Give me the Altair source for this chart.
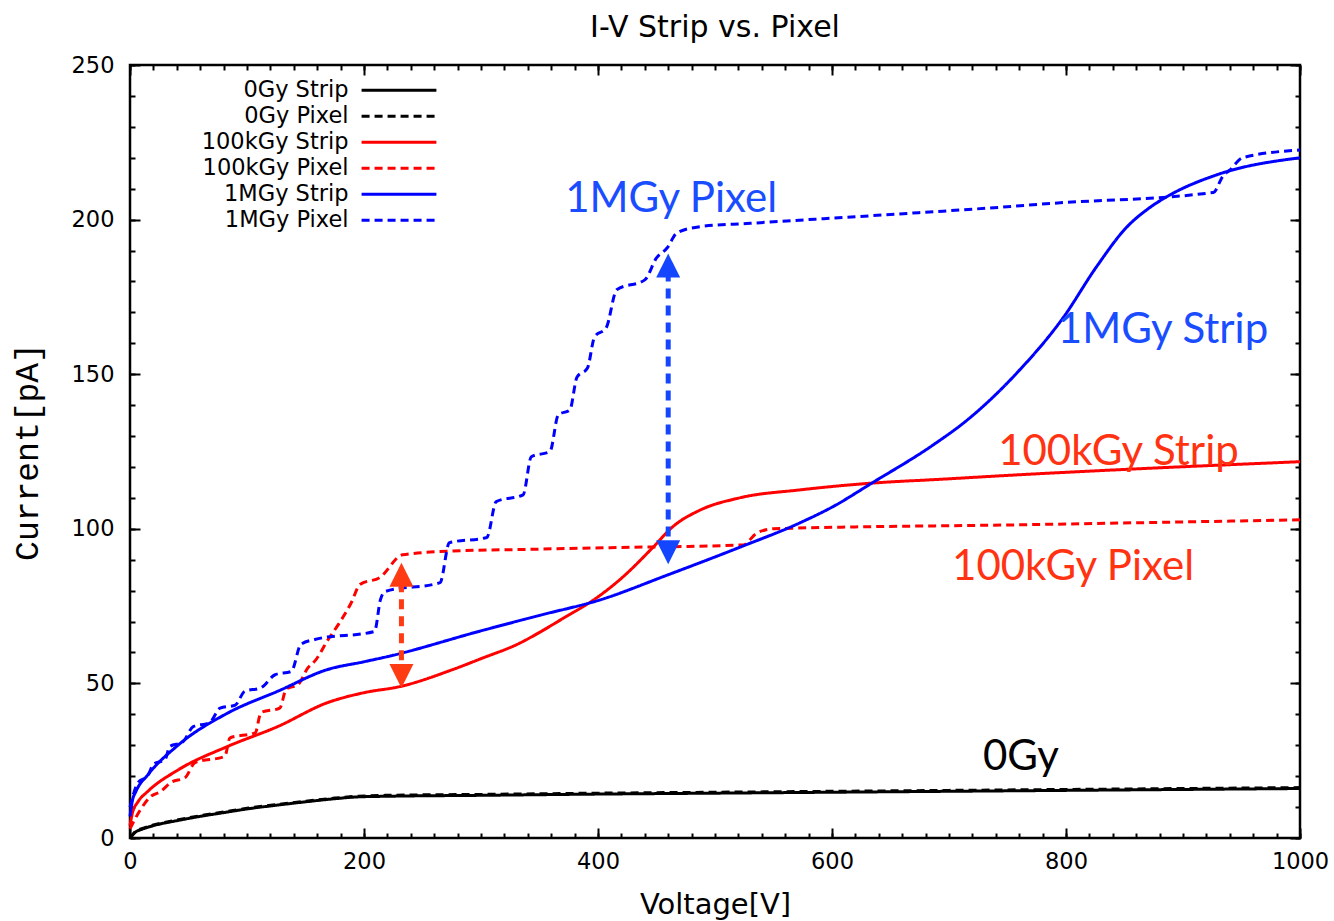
import altair as alt
import pandas as pd

# ---------------- data ----------------
SERIES = ["0Gy Strip", "0Gy Pixel", "100kGy Strip", "100kGy Pixel", "1MGy Strip", "1MGy Pixel"]
COLORS = ["#000000", "#000000", "#ff0000", "#ff0000", "#0000ff", "#0000ff"]
DASHES = [[1, 0], [8, 5], [1, 0], [8, 5], [1, 0], [8, 5]]

v_0gy = [0, 5, 10, 20, 40, 60, 80, 100, 125, 150, 175, 195, 220, 300, 400, 500, 600, 700, 800, 900, 1000]
i_0gy_strip = [0, 2.0, 2.8, 4.0, 5.6, 7.0, 8.2, 9.4, 10.6, 11.7, 12.7, 13.3, 13.5, 13.8, 14.2, 14.5, 14.8, 15.1, 15.4, 15.7, 16.0]
i_0gy_pixel = [0, 2.2, 3.0, 4.2, 5.8, 7.2, 8.4, 9.6, 10.8, 11.9, 12.9, 13.5, 13.8, 14.1, 14.5, 14.8, 15.1, 15.4, 15.7, 16.0, 16.3]

v_100k_strip = [0, 2, 7, 15, 41, 84, 126, 169, 200, 231, 276, 300, 333, 350, 370, 400, 420, 447, 464, 487, 521, 573, 635, 692, 761, 850, 1000]
i_100k_strip = [4, 8, 11.8, 15, 22, 29.7, 36, 43.8, 47, 49, 54.5, 58, 63, 66.5, 71, 78, 84, 94, 100.7, 106, 110, 112.6, 114.8, 116, 117.5, 119.2, 121.7]

v_100k_pixel = [0, 9, 18, 26, 35, 47, 55.6, 81, 85.5, 107, 112, 128, 133.6, 143.6, 152, 159, 169, 178, 189, 196.6,
                213.7, 233, 282, 333, 410, 524, 536, 550, 761, 1000]
i_100k_pixel = [3, 9.2, 13.5, 15, 18, 19.5, 24.4, 26.4, 32.4, 34, 40.6, 42, 48.2, 49.6, 55, 57.7, 64, 69, 76, 82,
                84.3, 91.6, 92.9, 93.3, 93.9, 94.8, 98.7, 100, 101.3, 102.9]

v_1m_strip = [0, 2, 5, 15.4, 41, 84, 126.5, 169, 200, 220.5, 300, 350, 401.7, 459, 521, 573, 600, 635, 686, 715,
              758, 798, 826, 852, 872, 889, 929, 1000]
i_1m_strip = [7, 12, 15, 20.5, 30, 40.5, 47.5, 54.5, 57, 58.7, 67, 72, 77, 85, 94, 102, 107, 115, 127, 135,
              150.4, 168.5, 184.7, 197.6, 204, 208, 214.5, 220]

v_1m_pixel = [0, 7, 15, 20, 30, 34, 45, 54, 68, 77, 90, 98, 112, 124, 138, 146, 158, 209, 214, 218,
              265, 273, 305, 313, 336, 343, 359, 366, 376, 382, 391, 397, 407, 416, 440, 450, 459, 467.5, 487, 530,
              644, 744, 786, 926, 934, 940, 951, 1000]
i_1m_pixel = [10, 18, 20, 23.8, 25.4, 29.6, 31, 36, 37.3, 42, 43, 47.4, 48.6, 52.8, 53.9, 62.6, 64.2, 66.8, 77, 79.7,
              82.6, 95.5, 97.2, 108.8, 111, 123.3, 125, 136.8, 138.5, 149, 152, 162, 165, 177.3, 180.5, 187.6, 190.8, 195.7, 197.7, 198.8,
              201.5, 204, 205.2, 208.8, 214, 216, 220, 222.5]

ann_text = ["1MGy Pixel", "1MGy Strip", "100kGy Strip", "100kGy Pixel", "0Gy"]
ann_v = [372, 793, 742, 702.6, 729]
ann_i = [202.5, 160, 120.7, 83.5, 22]
ann_color = ["#1a4dff", "#1a4dff", "#ff3311", "#ff3311", "#000000"]

arrow_v = [232, 460]
arrow_lo = [48.5, 88.5]
arrow_hi = [89, 189]
arrow_line_lo = [52, 92]
arrow_line_hi = [85, 184]
arrow_color = ["#ff3b14", "#1446ff"]

x_major = [0, 200, 400, 600, 800, 1000]
x_minor = list(range(0, 1001, 20))
y_major = [0, 50, 100, 150, 200, 250]
y_minor = list(range(0, 251, 10))

# ---------------- tables ----------------
rows = []
for name, vs, cs in [
    ("0Gy Strip", v_0gy, i_0gy_strip),
    ("0Gy Pixel", v_0gy, i_0gy_pixel),
    ("100kGy Strip", v_100k_strip, i_100k_strip),
    ("100kGy Pixel", v_100k_pixel, i_100k_pixel),
    ("1MGy Strip", v_1m_strip, i_1m_strip),
    ("1MGy Pixel", v_1m_pixel, i_1m_pixel),
]:
    for v, c in zip(vs, cs):
        rows.append({"series": name, "V": v, "I": c, "order": SERIES.index(name)})
df = pd.DataFrame(rows)

ann = pd.DataFrame({"text": ann_text, "V": ann_v, "I": ann_i, "color": ann_color})
arr = pd.DataFrame({"V": arrow_v, "lo": arrow_lo, "hi": arrow_hi,
                    "llo": arrow_line_lo, "lhi": arrow_line_hi, "color": arrow_color})

XS = alt.Scale(domain=[0, 1000], nice=False, zero=False)
YS = alt.Scale(domain=[0, 250], nice=False, zero=False)
FONT = "DejaVu Sans"

# legend: label on the left (right-aligned), line sample drawn to its right
legend = alt.Legend(
    title=None, orient="none", legendX=196, legendY=14,
    symbolType="M2.6,0H10.6", symbolSize=350, symbolStrokeWidth=3,
    labelAlign="right", labelOffset=0, labelFont=FONT, labelFontSize=22.5,
    labelColor="#000000", rowPadding=3, padding=0, symbolOpacity=1,
)

lines = alt.Chart(df).mark_line(strokeWidth=3, interpolate="monotone").encode(
    x=alt.X("V:Q", scale=XS, axis=alt.Axis(
        values=x_major, format="d", ticks=False, domain=False, grid=False, labelFont=FONT, labelFontSize=22.5,
        labelPadding=12, labelColor="#000", title="Voltage[V]", titleFont=FONT, titleFontSize=29,
        titleFontWeight="normal", titlePadding=18, titleColor="#000", orient="bottom", labelFlush=False)),
    y=alt.Y("I:Q", scale=YS, axis=alt.Axis(
        values=y_major, ticks=False, domain=False, grid=False, labelFont=FONT, labelFontSize=22.5,
        labelPadding=16, labelColor="#000", title="Current[pA]", titleFont="Liberation Mono",
        titleFontSize=33, titleFontWeight="normal", titlePadding=27, titleColor="#000", orient="left")),
    color=alt.Color("series:N", scale=alt.Scale(domain=SERIES, range=COLORS), legend=legend),
    strokeDash=alt.StrokeDash("series:N", scale=alt.Scale(domain=SERIES, range=DASHES), legend=legend),
    order=alt.Order("order:Q"),
)


def tick_layer(xvals, yvals, size, xorient, yorient):
    return alt.Chart(df).mark_line(strokeOpacity=0).encode(
        x=alt.X("V:Q", scale=XS, axis=alt.Axis(
            values=xvals, labels=False, domain=False, grid=False, ticks=True, tickSize=size,
            tickWidth=2, tickColor="#000", offset=-size, title=None, orient=xorient)),
        y=alt.Y("I:Q", scale=YS, axis=alt.Axis(
            values=yvals, labels=False, domain=False, grid=False, ticks=True, tickSize=size,
            tickWidth=2, tickColor="#000", offset=-size, title=None, orient=yorient)),
        detail="series:N",
    )


t1 = tick_layer(x_major, y_major, 10, "bottom", "left")
t2 = tick_layer(x_minor, y_minor, 5, "bottom", "left")
t3 = tick_layer(x_major, y_major, 10, "top", "right")
t4 = tick_layer(x_minor, y_minor, 5, "top", "right")

texts = alt.Chart(ann).mark_text(align="left", baseline="alphabetic", font="Lato", fontSize=42).encode(
    x=alt.X("V:Q", scale=XS, axis=None),
    y=alt.Y("I:Q", scale=YS, axis=None),
    text="text:N",
    fill=alt.Fill("color:N", scale=None),
)

arrow_lines = alt.Chart(arr).mark_rule(strokeWidth=5, strokeDash=[10, 7]).encode(
    x=alt.X("V:Q", scale=XS, axis=None),
    y=alt.Y("llo:Q", scale=YS, axis=None),
    y2="lhi:Q",
    stroke=alt.Stroke("color:N", scale=None),
)
head_up = alt.Chart(arr).mark_point(shape="M0,0L-1,2L1,2Z", filled=True, size=576, opacity=1, strokeWidth=0).encode(
    x=alt.X("V:Q", scale=XS, axis=None),
    y=alt.Y("hi:Q", scale=YS, axis=None),
    fill=alt.Fill("color:N", scale=None),
)
head_down = alt.Chart(arr).mark_point(shape="M0,0L-1,-2L1,-2Z", filled=True, size=576, opacity=1, strokeWidth=0).encode(
    x=alt.X("V:Q", scale=XS, axis=None),
    y=alt.Y("lo:Q", scale=YS, axis=None),
    fill=alt.Fill("color:N", scale=None),
)

chart = alt.layer(lines, t1, t2, t3, t4, texts, arrow_lines, head_up, head_down).resolve_axis(
    x="independent", y="independent"
).properties(
    width=1170, height=773,
    padding={"left": 130, "top": 65, "right": 34, "bottom": 83},
    autosize=alt.AutoSizeParams(type="none"),
    title=alt.TitleParams("I-V Strip vs. Pixel", font=FONT, fontSize=30, fontWeight="normal",
                          color="#000", offset=11, anchor="middle"),
    background="#ffffff",
).configure_view(stroke="#000000", strokeWidth=2.5)

chart.save("out.html", embed_options={"renderer": "svg", "actions": False})
